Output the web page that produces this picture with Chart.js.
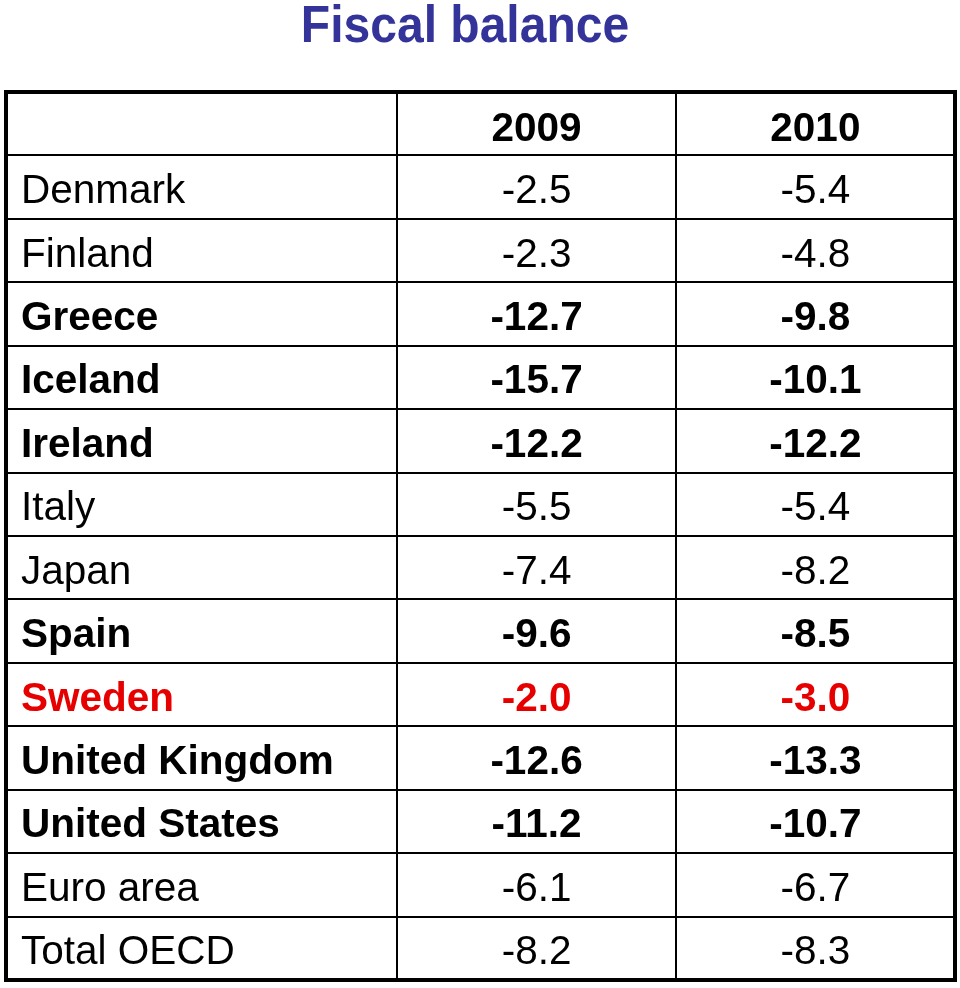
<!DOCTYPE html>
<html>
<head>
<meta charset="utf-8">
<title>Fiscal balance</title>
<script src="https://cdn.jsdelivr.net/npm/chart.js@4.4.1/dist/chart.umd.min.js"></script>
<style>
  html, body { margin: 0; padding: 0; background: #fff; }
  #wrap { width: 960px; height: 988px; }
</style>
</head>
<body>
<div id="wrap"><canvas id="table" width="960" height="988"></canvas></div>
<script>
// Table data
const chartTitle = 'Fiscal balance';
const years = ['2009', '2010'];
const countries = ['Denmark', 'Finland', 'Greece', 'Iceland', 'Ireland', 'Italy', 'Japan',
    'Spain', 'Sweden', 'United Kingdom', 'United States', 'Euro area', 'Total OECD'];
const values2009 = [-2.5, -2.3, -12.7, -15.7, -12.2, -5.5, -7.4, -9.6, -2.0, -12.6, -11.2, -6.1, -8.2];
const values2010 = [-5.4, -4.8, -9.8, -10.1, -12.2, -5.4, -8.2, -8.5, -3.0, -13.3, -10.7, -6.7, -8.3];
const boldRows = ['Greece', 'Iceland', 'Ireland', 'Spain', 'Sweden', 'United Kingdom', 'United States'];
const highlightRows = ['Sweden'];

// column edges on the x scale (0..1)
const colEdges = [0, 0.4124, 0.7057, 1];
const rowCount = countries.length + 1;

function rowCenter(i) { return i + 1.5; }
function colCenter(c) { return (colEdges[c] + colEdges[c + 1]) / 2; }

function fontFor(bold) {
    return (bold ? 'bold ' : '') + '40.5px "Liberation Sans", Arial, sans-serif';
}

const tablePlugin = {
    id: 'tableText',
    afterDraw(chart) {
        const ctx = chart.ctx;
        const area = chart.chartArea;
        const xs = chart.scales.x;
        const ys = chart.scales.y;

        ctx.save();
        // title
        ctx.fillStyle = '#333399';
        ctx.font = 'bold 49px "Liberation Sans", Arial, sans-serif';
        ctx.textAlign = 'center';
        ctx.textBaseline = 'alphabetic';
        ctx.translate(465, 42);
        ctx.scale(0.98, 1.04);
        ctx.fillText(chartTitle, 0, 0);
        ctx.restore();

        // outer border
        ctx.save();
        ctx.strokeStyle = '#000';
        ctx.lineWidth = 4;
        ctx.strokeRect(area.left, area.top, area.right - area.left, area.bottom - area.top);
        ctx.restore();

        ctx.save();
        ctx.textBaseline = 'alphabetic';

        // header row
        ctx.fillStyle = '#000';
        ctx.font = fontFor(true);
        ctx.textAlign = 'center';
        const headY = ys.getPixelForValue(0.5) + 17;
        years.forEach((yr, c) => {
            ctx.fillText(yr, xs.getPixelForValue(colCenter(c + 1)), headY);
        });

        // country labels
        countries.forEach((name, i) => {
            const bold = boldRows.includes(name);
            ctx.fillStyle = highlightRows.includes(name) ? '#e60000' : '#000';
            ctx.font = fontFor(bold);
            ctx.textAlign = 'left';
            ctx.fillText(name, xs.getPixelForValue(0) + 15, ys.getPixelForValue(rowCenter(i)) + 16);
        });

        // values from dataset points
        chart.data.datasets.forEach((ds, d) => {
            const meta = chart.getDatasetMeta(d);
            meta.data.forEach((pt, i) => {
                const name = countries[i];
                ctx.fillStyle = highlightRows.includes(name) ? '#e60000' : '#000';
                ctx.font = fontFor(boldRows.includes(name));
                ctx.textAlign = 'center';
                ctx.fillText(ds.values[i].toFixed(1), pt.x, pt.y + 16);
            });
        });
        ctx.restore();
    }
};

function gridScale(extra) {
    return Object.assign({
        type: 'linear',
        ticks: { display: false },
        border: { display: false },
        grid: { color: '#000', lineWidth: 2, drawTicks: false }
    }, extra);
}

new Chart(document.getElementById('table'), {
    type: 'scatter',
    data: {
        datasets: [
            {
                label: years[0],
                values: values2009,
                data: values2009.map((v, i) => ({ x: colCenter(1), y: rowCenter(i) })),
                pointRadius: 0
            },
            {
                label: years[1],
                values: values2010,
                data: values2010.map((v, i) => ({ x: colCenter(2), y: rowCenter(i) })),
                pointRadius: 0
            }
        ]
    },
    options: {
        responsive: false,
        animation: false,
        devicePixelRatio: 1,
        layout: { padding: { left: 6, right: 5, top: 92, bottom: 8 } },
        plugins: {
            legend: { display: false },
            tooltip: { enabled: false }
        },
        scales: {
            x: gridScale({
                min: 0,
                max: 1,
                afterBuildTicks: s => { s.ticks = colEdges.map(v => ({ value: v })); }
            }),
            y: gridScale({
                min: 0,
                max: rowCount,
                reverse: true,
                afterBuildTicks: s => {
                    s.ticks = Array.from({ length: rowCount + 1 }, (_, i) => ({ value: i }));
                }
            })
        }
    },
    plugins: [tablePlugin]
});
</script>
</body>
</html>
